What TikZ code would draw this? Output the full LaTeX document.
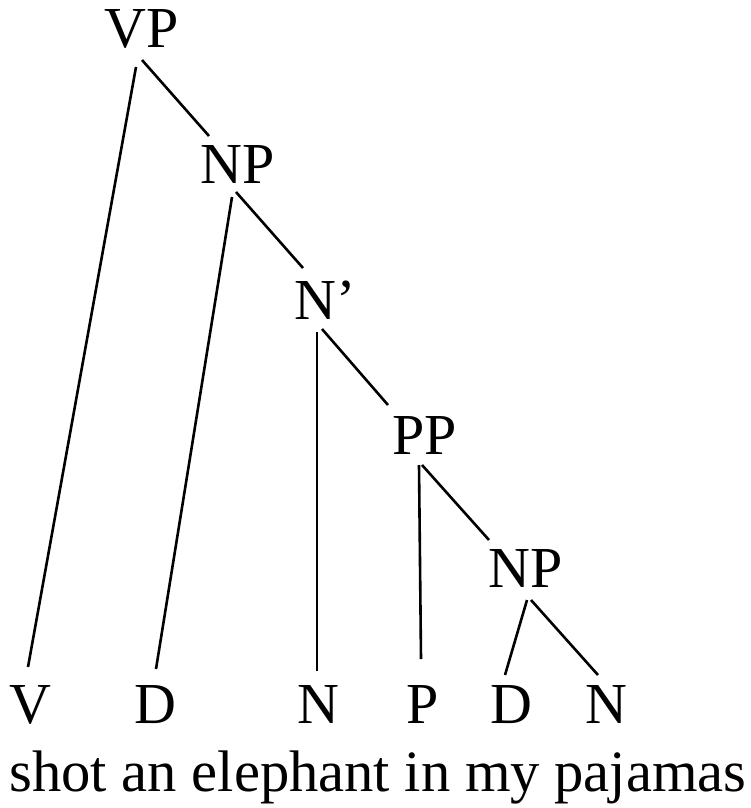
\documentclass[tikz,border=0pt]{standalone}
\usepackage{fontspec}
\setmainfont{Liberation Serif}
\usetikzlibrary{positioning,calc}

\begin{document}
\begin{tikzpicture}[x=1pt,y=-1pt]
                        \tikzstyle{every node}=[draw=none,inner sep=0,anchor=base,font=\fontsize{58}{60}\selectfont]
                        \tikzstyle{sentence}=[font=\fontsize{58.6}{60}\selectfont]
                        \tikzstyle{branch}=[line width=2.6,line cap=butt]
                        \useasboundingbox (0,0) rectangle (751,808);
                        {
                            % phrase nodes
                            \node (vp)  at (142,48)  {VP};
                            \node (np1) at (238,183) {NP};
                            \node (nb)  at (325,319) {N’};
                            \node (pp)  at (425,454) {PP};
                            \node (np2) at (526,587) {NP};

                            % leaves
                            \node (v)  at (30,723)  {V};
                            \node (d1) at (155,723) {D};
                            \node (n1) at (318,723) {N};
                            \node (p)  at (423,723) {P};
                            \node (d2) at (511,723) {D};
                            \node (n2) at (606,723) {N};
                            \node[sentence] (words) at (378,791) {shot an elephant in my pajamas};

                            \draw[branch] ($(vp.base)+(-6,19)$) -- ($(v.base)+(-2,-56)$);
                            \draw[branch] ($(vp.base)+(0,12)$) -- ($(np1.base)+(-29,-47)$);
                            \draw[branch] ($(np1.base)+(-6,14)$) -- ($(d1.base)+(1,-54)$);
                            \draw[branch] ($(np1.base)+(-2,9)$) -- ($(nb.base)+(-22,-51)$);
                            \draw[branch] ($(nb.base)+(-8,13)$) -- ($(n1.base)+(-1,-52)$);
                            \draw[branch] ($(nb.base)+(-3,10)$) -- ($(pp.base)+(-37,-49)$);
                            \draw[branch] ($(pp.base)+(-6,11)$) -- ($(p.base)+(-2,-64)$);
                            \draw[branch] ($(pp.base)+(-3,11)$) -- ($(np2.base)+(-37,-47)$);
                            \draw[branch] ($(np2.base)+(1,13)$) -- ($(d2.base)+(-6,-48)$);
                            \draw[branch] ($(np2.base)+(5,13)$) -- ($(n2.base)+(-8,-48)$);
                        }
                    \end{tikzpicture}
\end{document}
